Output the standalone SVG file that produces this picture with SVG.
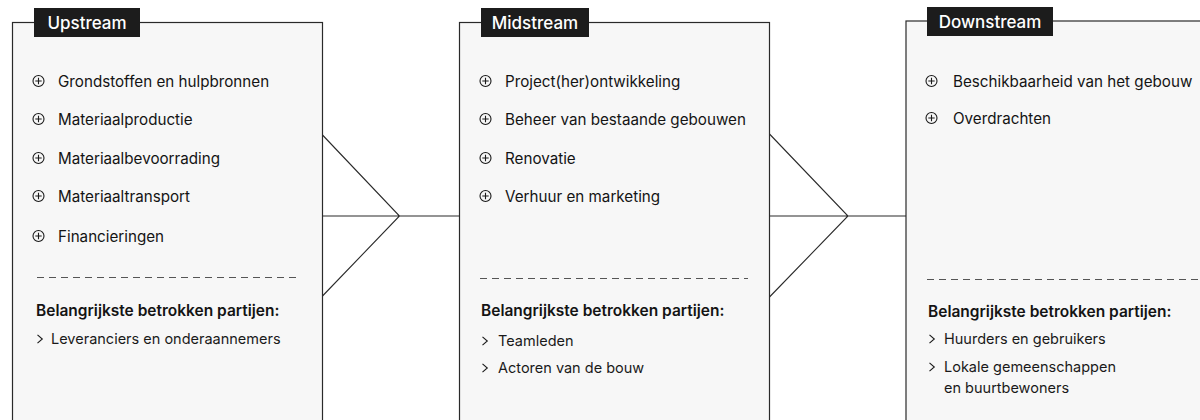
<svg xmlns="http://www.w3.org/2000/svg" width="1200" height="420" viewBox="0 0 1200 420">
<style>
.box{fill:#f7f7f7;stroke:#2a2a2a;stroke-width:1.2}
.tag{fill:#1c1c1c}
.tagt{fill:#ffffff;font-family:Inter,"Liberation Sans",sans-serif;font-size:17px;font-weight:500;text-anchor:middle}
.item{fill:#141414;font-family:Inter,"Liberation Sans",sans-serif;font-size:15.2px}
.head{fill:#141414;font-family:Inter,"Liberation Sans",sans-serif;font-size:15.5px;font-weight:600}
.bul{fill:#1a1a1a;font-family:Inter,"Liberation Sans",sans-serif;font-size:14.5px}
.dash{stroke:#555;stroke-width:1;stroke-dasharray:7 5}
.ic{fill:none;stroke:#1a1a1a;stroke-width:1.1}
.conn{fill:none;stroke:#2a2a2a;stroke-width:1.1}
</style>
<defs>
<g id="plus"><circle class="ic" cx="0" cy="0" r="5.5"/><path class="ic" d="M-3.2 0H3.2M0 -3.2V3.2"/></g>
<path id="chev" class="ic" d="M-2.5 -4.2L2.3 0L-2.5 4.2"/>
</defs>
<rect x="0" y="0" width="1200" height="420" fill="#ffffff"/>

<g id="upstream">
<rect class="box" x="12.5" y="22.5" width="310" height="420"/>
<rect class="tag" x="34" y="8" width="106" height="29"/>
<text class="tagt" x="87" y="28.5">Upstream</text>
<use href="#plus" x="38.5" y="81"/><text class="item" x="58" y="86.5">Grondstoffen en hulpbronnen</text>
<use href="#plus" x="38.5" y="119"/><text class="item" x="58" y="124.5">Materiaalproductie</text>
<use href="#plus" x="38.5" y="158"/><text class="item" x="58" y="163.5">Materiaalbevoorrading</text>
<use href="#plus" x="38.5" y="196"/><text class="item" x="58" y="201.5">Materiaaltransport</text>
<use href="#plus" x="38.5" y="236"/><text class="item" x="58" y="241.5">Financieringen</text>
<line class="dash" x1="37" y1="277.5" x2="297" y2="277.5"/>
<text class="head" x="36" y="316">Belangrijkste betrokken partijen:</text>
<use href="#chev" x="40" y="339"/><text class="bul" x="51" y="344">Leveranciers en onderaannemers</text>
</g>

<g id="midstream">
<rect class="box" x="459.5" y="22.5" width="310" height="420"/>
<rect class="tag" x="481" y="8" width="108" height="29"/>
<text class="tagt" x="535" y="28.5">Midstream</text>
<use href="#plus" x="485.5" y="81"/><text class="item" x="505" y="86.5">Project(her)ontwikkeling</text>
<use href="#plus" x="485.5" y="119"/><text class="item" x="505" y="124.5">Beheer van bestaande gebouwen</text>
<use href="#plus" x="485.5" y="158"/><text class="item" x="505" y="163.5">Renovatie</text>
<use href="#plus" x="485.5" y="196"/><text class="item" x="505" y="201.5">Verhuur en marketing</text>
<line class="dash" x1="480" y1="278.5" x2="748" y2="278.5"/>
<text class="head" x="481" y="316">Belangrijkste betrokken partijen:</text>
<use href="#chev" x="485" y="341"/><text class="bul" x="498" y="346">Teamleden</text>
<use href="#chev" x="485" y="368"/><text class="bul" x="498" y="373">Actoren van de bouw</text>
</g>

<g id="downstream">
<rect class="box" x="906" y="21" width="310" height="420"/>
<rect class="tag" x="927" y="7" width="126" height="29"/>
<text class="tagt" x="990" y="27.5">Downstream</text>
<use href="#plus" x="931.5" y="81"/><text class="item" x="953" y="86.5">Beschikbaarheid van het gebouw</text>
<use href="#plus" x="931.5" y="118"/><text class="item" x="953" y="123.5">Overdrachten</text>
<line class="dash" x1="927" y1="279.5" x2="1200" y2="279.5"/>
<text class="head" x="928" y="317">Belangrijkste betrokken partijen:</text>
<use href="#chev" x="932" y="339"/><text class="bul" x="944" y="344">Huurders en gebruikers</text>
<use href="#chev" x="932" y="367"/><text class="bul" x="944" y="372">Lokale gemeenschappen</text>
<text class="bul" x="944" y="393">en buurtbewoners</text>
</g>

<g id="connectors">
<path class="conn" d="M322.5 135L399.5 216L322.5 296M322.5 216H459.5"/>
<path class="conn" d="M769.5 134L848 216L769.5 297M769.5 216H906"/>
</g>
</svg>
